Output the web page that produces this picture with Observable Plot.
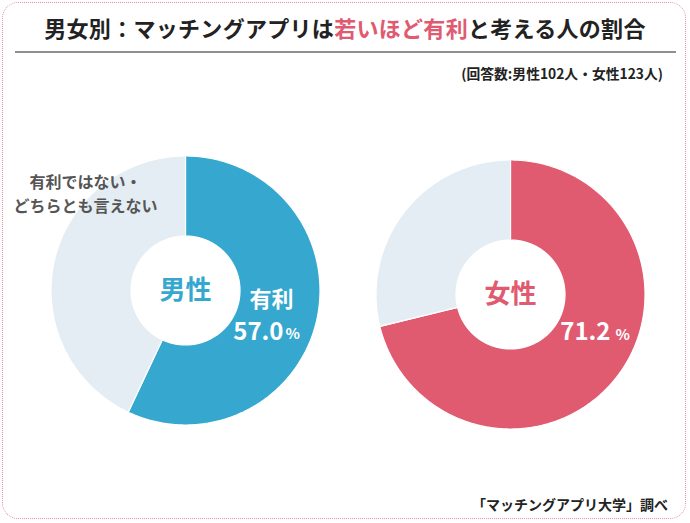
<!DOCTYPE html>
<html>
<head>
<meta charset="utf-8">
<script src="https://cdn.jsdelivr.net/npm/d3@7"></script>
<script src="https://cdn.jsdelivr.net/npm/@observablehq/plot@0.6"></script>
<style>
  html, body { margin: 0; padding: 0; background: #fff; }
  body { width: 690px; height: 523px; overflow: hidden; }
  #wrap { position: relative; width: 690px; height: 523px; font-family: "Noto Sans CJK JP", "Noto Sans", sans-serif; font-weight: bold; }
  #frame { position: absolute; left: 2px; top: 2px; width: 684px; height: 517px; border: 1px dotted #ee8c9c; border-radius: 16px; box-sizing: border-box; }
  #title { position: absolute; left: 0; top: 13px; width: 690px; height: 28px; line-height: 28px; text-align: center; font-size: 22px; color: #222; letter-spacing: 0.3px; }
  #title .hl { color: #e05a70; }
  #rule { position: absolute; left: 15px; top: 51px; width: 661px; height: 2px; background: #909090; }
  #sub { position: absolute; right: 27px; top: 63px; line-height: 20px; font-size: 13.8px; color: #222; }
  #foot { position: absolute; right: 22px; top: 494px; line-height: 20px; font-size: 14px; color: #222; }
  .pie { position: absolute; }
</style>
</head>
<body>
<div id="wrap">
  <div id="frame"></div>
  <div id="title">男女別：マッチングアプリは<span class="hl">若いほど有利</span>と考える人の割合</div>
  <div id="rule"></div>
  <div id="sub">(回答数:男性102人・女性123人)</div>
  <div id="male" class="pie" style="left:25px; top:130px;"></div>
  <div id="female" class="pie" style="left:350px; top:134px;"></div>
  <div id="foot">「マッチングアプリ大学」調べ</div>
</div>
<script>
// ---- data ----
const genders = ["男性", "女性"];
const favorable = [57.0, 71.2];          // % answering 有利
const favorableLabel = "有利";
const otherLabel = "有利ではない・\nどちらとも言えない";
const genderColors = ["#36a8cf", "#e05a70"];
const otherColor = "#e4edf3";

// ---- geometry helpers ----
const SIZE = 320, R_PX = 134.5;
const R = (SIZE / 2) / R_PX;     // domain half-extent, outer radius = 1
const INNER = 54.5 / R_PX;

function ring(startPct, endPct) {
  const pts = [];
  const steps = Math.max(2, Math.ceil((endPct - startPct) * 7.2));
  for (let i = 0; i <= steps; i++) {
    const a = (startPct + (endPct - startPct) * i / steps) / 100 * 2 * Math.PI;
    pts.push({x: Math.sin(a), y: Math.cos(a)});
  }
  for (let i = steps; i >= 0; i--) {
    const a = (startPct + (endPct - startPct) * i / steps) / 100 * 2 * Math.PI;
    pts.push({x: INNER * Math.sin(a), y: INNER * Math.cos(a)});
  }
  return pts;
}

function donut(i) {
  const v = favorable[i];
  const color = genderColors[i];
  const marks = [
    Plot.line(ring(0, v), {x: "x", y: "y", fill: color, stroke: "white", strokeWidth: 1.2, curve: "linear-closed"}),
    Plot.line(ring(v, 100), {x: "x", y: "y", fill: otherColor, stroke: "white", strokeWidth: 1.2, curve: "linear-closed"}),
    Plot.text([genders[i]], {x: 0, y: 0, text: d => d, fill: color, fontSize: 26, fontWeight: "bold", dy: 0})
  ];
  if (i === 0) {
    marks.push(
      Plot.text([favorableLabel], {x: 0, y: 0, text: d => d, fill: "white", fontSize: 22, fontWeight: "bold", dx: 86, dy: 9.5}),
      Plot.text([v.toFixed(1)], {x: 0, y: 0, text: d => d, fill: "white", fontSize: 24, fontWeight: "bold", textAnchor: "end", dx: 98, dy: 41.5}),
      Plot.text(["%"], {x: 0, y: 0, text: d => d, fill: "white", fontSize: 15, fontWeight: "bold", textAnchor: "start", dx: 100, dy: 44}),
      Plot.text([otherLabel], {x: 0, y: 0, text: d => d, fill: "#555", fontSize: 16, fontWeight: "bold", lineHeight: 1.56, dx: -100, dy: -98.5})
    );
  } else {
    marks.push(
      Plot.text([v.toFixed(1)], {x: 0, y: 0, text: d => d, fill: "white", fontSize: 24, fontWeight: "bold", textAnchor: "end", dx: 100, dy: 38}),
      Plot.text(["%"], {x: 0, y: 0, text: d => d, fill: "white", fontSize: 15, fontWeight: "bold", textAnchor: "start", dx: 105, dy: 40.5})
    );
  }
  return Plot.plot({
    width: SIZE, height: SIZE, margin: 0,
    x: {domain: [-R, R], axis: null},
    y: {domain: [-R, R], axis: null},
    style: {fontFamily: "'Noto Sans CJK JP', 'Noto Sans', sans-serif", background: "transparent", overflow: "visible"},
    marks
  });
}

document.getElementById("male").appendChild(donut(0));
document.getElementById("female").appendChild(donut(1));
</script>
</body>
</html>
